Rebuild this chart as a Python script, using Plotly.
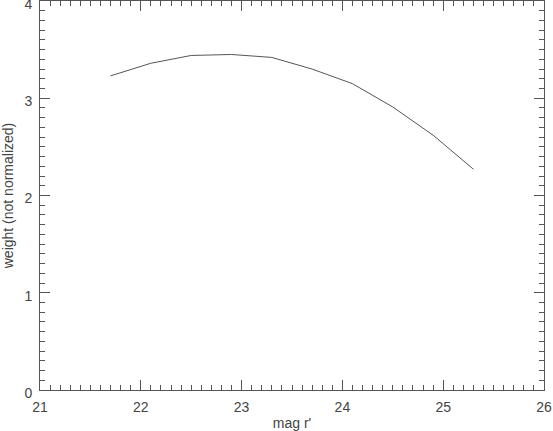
import plotly.graph_objects as go

# weight curve
mag_r = [21.7, 22.1, 22.5, 22.9, 23.3, 23.7, 24.1, 24.5, 24.9, 25.3]
weight = [3.23, 3.36, 3.44, 3.45, 3.42, 3.30, 3.15, 2.91, 2.62, 2.27]

x_ticks = [21, 22, 23, 24, 25, 26]
y_ticks = [0, 1, 2, 3, 4]

axis_col = "#555555"
text_font = dict(family="Liberation Sans", size=14, color="#444444")

fig = go.Figure()

fig.add_trace(
    go.Scatter(
        x=mag_r, y=weight, mode="lines",
        line=dict(color="#555555", width=1), showlegend=False
    )
)

common = dict(
    showgrid=False, zeroline=False, showline=True, linecolor=axis_col, linewidth=1,
    mirror="ticks", ticks="inside", ticklen=10, tickcolor=axis_col, tickwidth=1,
    tickfont=text_font, automargin=False, ticklabeloverflow="allow",
    minor=dict(ticks="inside", ticklen=5, tickcolor=axis_col, tickwidth=1, dtick=0.1, showgrid=False),
)

fig.update_xaxes(
    range=[21, 26], tickvals=x_ticks, ticktext=[str(v) for v in x_ticks],
    title=dict(text="mag r'", font=text_font),
    ticklabelstandoff=4,
    **common
)
fig.update_yaxes(
    range=[0, 4], tickvals=y_ticks, ticktext=[str(v) for v in y_ticks],
    title=dict(text="weight (not normalized)", font=text_font),
    ticklabelstandoff=4, ticklabelshift=3,
    **common
)

fig.update_layout(
    width=553, height=431,
    margin=dict(l=40, r=9, t=1, b=41),
    plot_bgcolor="white", paper_bgcolor="white",
)

# the page body has a default 8px margin; drop it so the figure sits at 0,0
fig.write_html(
    "out.html",
    config={"displayModeBar": False},
    post_script="document.body.style.margin='0';",
)
